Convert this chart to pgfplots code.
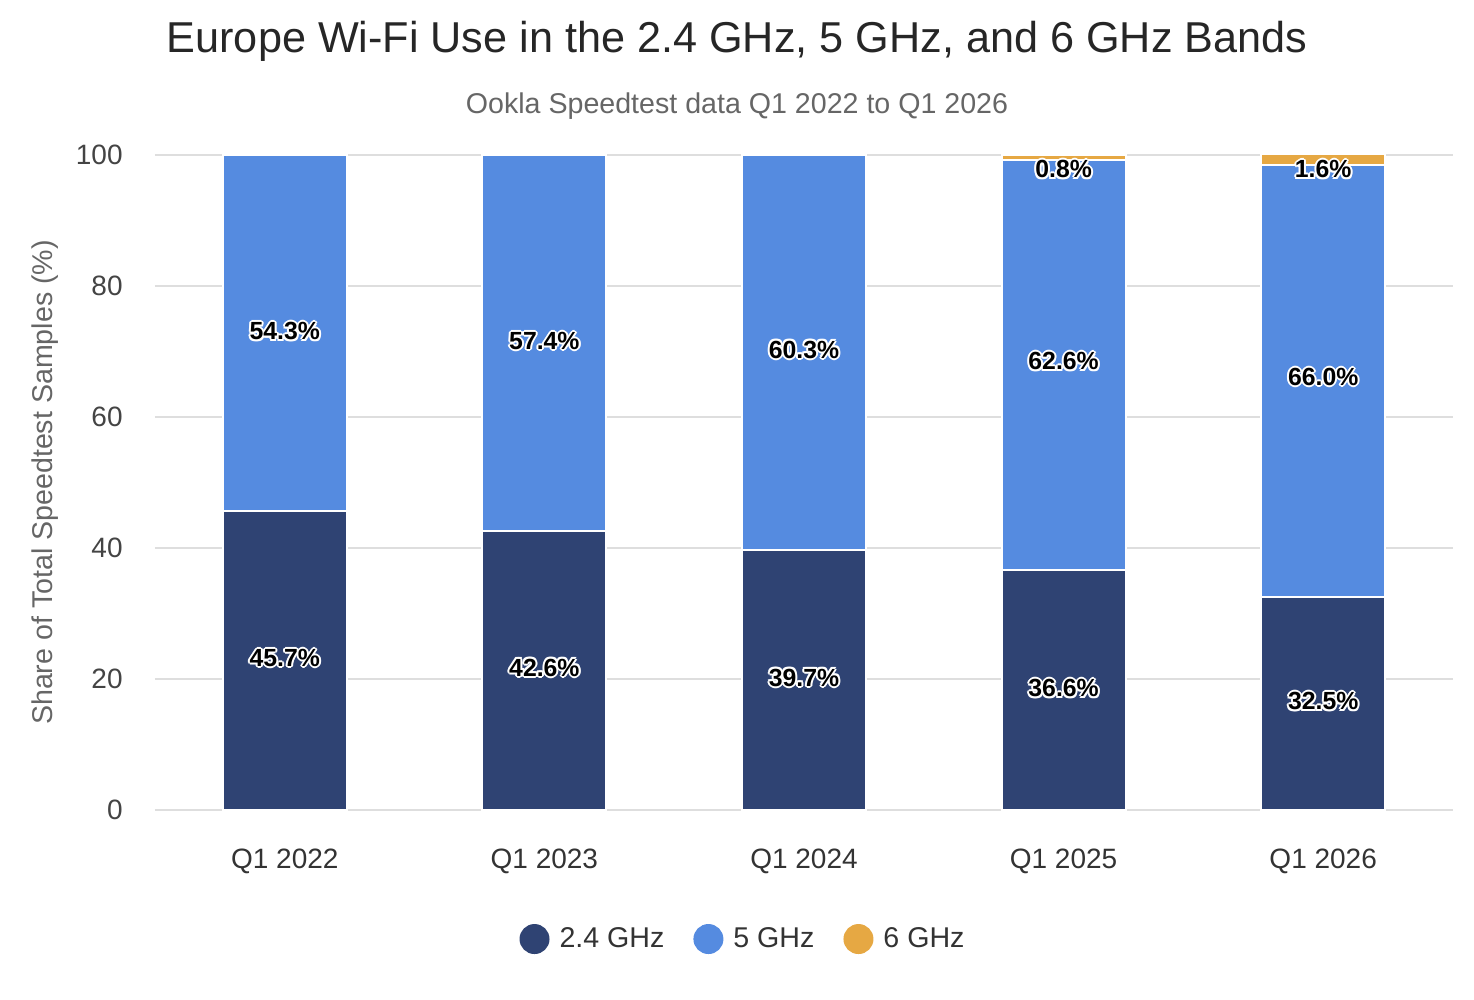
\documentclass[border=0pt]{standalone}
\usepackage{pgfplots}
\pgfplotsset{compat=1.18}
\usepackage{fontspec}
\setmainfont{Liberation Sans}

\definecolor{bandA}{HTML}{2F4373}
\definecolor{bandB}{HTML}{558BE0}
\definecolor{bandC}{HTML}{E6A843}
\definecolor{gridgray}{HTML}{DEDEDE}
\definecolor{ticktext}{HTML}{444444}
\definecolor{subtext}{HTML}{666666}

% black label with a white halo
\newcommand\halocopy[3]{\rlap{\hspace*{#1}\raisebox{#2}{\textcolor{white}{#3}}}}
\newcommand\olab[1]{%
  \halocopy{1pt}{0pt}{#1}\halocopy{-1pt}{0pt}{#1}%
  \halocopy{0pt}{1pt}{#1}\halocopy{0pt}{-1pt}{#1}%
  \halocopy{.7pt}{.7pt}{#1}\halocopy{-.7pt}{.7pt}{#1}%
  \halocopy{.7pt}{-.7pt}{#1}\halocopy{-.7pt}{-.7pt}{#1}%
  \textcolor{black}{#1}}
\tikzset{seglabel/.style={font=\bfseries\fontsize{12.4}{14}\selectfont, inner sep=0pt}}

\begin{document}
\begin{tikzpicture}
\useasboundingbox (-77.5pt,-95pt) rectangle (659.5pt,405pt);
\begin{axis}[
  at={(0,0)}, anchor=south west,
  scale only axis, width=649pt, height=327.5pt,
  ybar stacked, bar width=62pt,
  xmin=-0.5, xmax=4.5, ymin=0, ymax=100,
  clip=false,
  axis line style={draw=none},
  major tick length=0pt,
  xtick={0,1,2,3,4},
  xticklabels={Q1 2022,Q1 2023,Q1 2024,Q1 2025,Q1 2026},
  ytick={0,20,40,60,80,100},
  ymajorgrids, grid style={gridgray, line width=0.75pt},
  /pgf/number format/assume math mode=true,
  tick label style={font=\fontsize{14}{16}\selectfont},
  xticklabel style={text=black!80, inner sep=0pt, anchor=base, yshift=-29.5pt},
  yticklabel style={text=ticktext, inner sep=0pt, anchor=east, xshift=-16pt},
  ylabel={Share of Total Speedtest Samples (\%)},
  every axis y label/.style={at={(axis description cs:0,0.5)}, xshift=-55pt,
    rotate=90, anchor=center, text=subtext, font=\fontsize{14.3}{16}\selectfont},
  legend columns=-1,
  legend style={at={(axis description cs:0.4538,-0.197)}, anchor=center,
    draw=none, fill=none, font=\fontsize{14.3}{16}\selectfont, text=black!80,
    /tikz/every even column/.append style={column sep=12.5pt}},
]
\addplot[fill=bandA, draw=white, line width=1pt,
  legend image code/.code={\fill[bandA] (0pt,0pt) circle (7pt); \path (10pt,0pt);}] coordinates
  {(0,45.7) (1,42.6) (2,39.7) (3,36.6) (4,32.5)};
\addlegendentry{2.4 GHz}
\addplot[fill=bandB, draw=white, line width=1pt,
  legend image code/.code={\fill[bandB] (0pt,0pt) circle (7pt); \path (10pt,0pt);}] coordinates
  {(0,54.3) (1,57.4) (2,60.3) (3,62.6) (4,66.0)};
\addlegendentry{5 GHz}
\addplot[fill=bandC, draw=white, line width=1pt,
  legend image code/.code={\fill[bandC] (0pt,0pt) circle (7pt); \path (10pt,0pt);}] coordinates
  {(0,0) (1,0) (2,0) (3,0.8) (4,1.6)};
\addlegendentry{6 GHz}

% label anchors near the middle of each segment
\coordinate (a0) at (axis cs:0,23.2);
\coordinate (a1) at (axis cs:1,21.7);
\coordinate (a2) at (axis cs:2,20.2);
\coordinate (a3) at (axis cs:3,18.6);
\coordinate (a4) at (axis cs:4,16.6);
\coordinate (b0) at (axis cs:0,73.1);
\coordinate (b1) at (axis cs:1,71.6);
\coordinate (b2) at (axis cs:2,70.3);
\coordinate (b3) at (axis cs:3,68.5);
\coordinate (b4) at (axis cs:4,66.1);
\coordinate (c3) at (axis cs:3,97.8);
\coordinate (c4) at (axis cs:4,97.8);
\end{axis}
% segment labels, drawn above the bars
\node[seglabel] at (a0) {\olab{45.7\%}};
\node[seglabel] at (a1) {\olab{42.6\%}};
\node[seglabel] at (a2) {\olab{39.7\%}};
\node[seglabel] at (a3) {\olab{36.6\%}};
\node[seglabel] at (a4) {\olab{32.5\%}};
\node[seglabel] at (b0) {\olab{54.3\%}};
\node[seglabel] at (b1) {\olab{57.4\%}};
\node[seglabel] at (b2) {\olab{60.3\%}};
\node[seglabel] at (b3) {\olab{62.6\%}};
\node[seglabel] at (b4) {\olab{66.0\%}};
\node[seglabel] at (c3) {\olab{0.8\%}};
\node[seglabel] at (c4) {\olab{1.6\%}};

\node[anchor=base, inner sep=0pt, text=black!85, font=\fontsize{21.6}{24}\selectfont]
  at (291pt,378.5pt) {Europe Wi-Fi Use in the 2.4 GHz, 5 GHz, and 6 GHz Bands};
\node[anchor=base, inner sep=0pt, text=subtext, font=\fontsize{14.3}{16}\selectfont]
  at (291pt,348pt) {Ookla Speedtest data Q1 2022 to Q1 2026};
\end{tikzpicture}
\end{document}
